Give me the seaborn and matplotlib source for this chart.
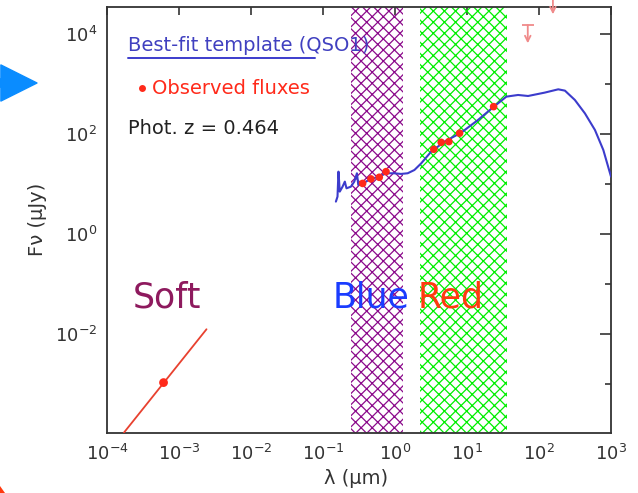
import numpy as np
import pandas as pd
import matplotlib
matplotlib.use("Agg")
import matplotlib.pyplot as plt
from matplotlib.patches import Polygon
from matplotlib.ticker import FixedLocator, LogFormatterSciNotation, NullFormatter
import seaborn as sns

# Best-fit QSO1 template (wavelength in micron, flux density in microJy)
template_lam = [0.151, 0.159, 0.164, 0.171, 0.187, 0.201, 0.212, 0.244, 0.272, 0.296,
                0.309, 0.355, 0.463, 0.605, 0.750, 0.980, 1.21, 1.50, 1.86, 2.31,
                3.18, 4.88, 8.32, 14.2, 23.0, 35.2, 51.2, 70.5, 120, 185,
                229, 315, 434, 598, 782, 1000]
template_flux = [4.50, 5.66, 17.9, 7.13, 8.97, 11.3, 8.30, 8.97, 11.3, 16.6,
                 9.68, 10.4, 12.8, 14.2, 16.6, 16.6, 16.1, 16.6, 19.3, 26.2,
                 45.0, 71.3, 108, 193, 346, 566, 611, 583, 681, 793,
                 746, 485, 262, 122, 48.5, 14.2]

# Observed photometry
obs_lam = [0.355, 0.463, 0.605, 0.750, 3.46, 4.38, 5.60, 7.88, 23.4]
obs_flux = [10.4, 12.8, 13.8, 17.9, 50.0, 69.0, 71.3, 105, 357]

# Far-IR upper limits (limit value and arrow tip)
ulim_lam = [69.8, 156]
ulim_flux = [15300, 59000]
ulim_tip = [6600, 25100]

# Soft X-ray detection and power-law segment
xray_lam = [6.1e-4]
xray_flux = [1.08e-3]
xray_line_lam = [1.72e-4, 2.41e-3]
xray_line_flux = [1.08e-4, 1.26e-2]

# Shaded bands (micron)
blue_band = (0.247, 1.30)
red_band = (2.24, 36.5)

sns.set_theme(style="white")
plt.rcParams["font.family"] = ["DejaVu Sans"]
plt.rcParams["mathtext.fontset"] = "dejavusans"
plt.rcParams["hatch.linewidth"] = 0.9

fig = plt.figure(figsize=(6.38, 4.93), dpi=100)
ax = fig.add_axes([0.1677, 0.1217, 0.79, 0.8647])
ax.set_xscale("log")
ax.set_yscale("log")
ax.set_xlim(1e-4, 1e3)
ax.set_ylim(1.06e-4, 3.56e4)

ax.axvspan(*blue_band, facecolor="none", edgecolor="#8b0a8b", hatch="xxx",
           linewidth=0, zorder=1)
ax.axvspan(*red_band, facecolor="none", edgecolor="#00ee00", hatch="xxx",
           linewidth=0, zorder=1)

tmpl = pd.DataFrame({"lam": template_lam, "flux": template_flux})
sns.lineplot(data=tmpl, x="lam", y="flux", ax=ax, color="#3c3ccc", lw=1.5,
             sort=False, estimator=None, zorder=3)

obs = pd.DataFrame({"lam": obs_lam, "flux": obs_flux})
sns.scatterplot(data=obs, x="lam", y="flux", ax=ax, color="#ff2a1a", s=30,
                edgecolor="none", zorder=4)

xl = pd.DataFrame({"lam": xray_line_lam, "flux": xray_line_flux})
sns.lineplot(data=xl, x="lam", y="flux", ax=ax, color="#e8412f", lw=1.3,
             estimator=None, zorder=3)
xp = pd.DataFrame({"lam": xray_lam, "flux": xray_flux})
sns.scatterplot(data=xp, x="lam", y="flux", ax=ax, color="#ff2a1a", s=40,
                edgecolor="none", zorder=4)

for lam, top, tip in zip(ulim_lam, ulim_flux, ulim_tip):
    ax.annotate("", xy=(lam, tip), xytext=(lam, top),
                arrowprops=dict(arrowstyle="->", color="#f08a8a", lw=1.3,
                                shrinkA=0, shrinkB=0, mutation_scale=10))
    ax.plot([lam], [top], marker="_", ms=9, mew=1.3, color="#f08a8a")

# Axis styling: inward ticks on all sides
for s in ax.spines.values():
    s.set_color("#333333")
    s.set_linewidth(1.3)
ax.xaxis.set_major_locator(FixedLocator([10.0 ** k for k in range(-4, 4)]))
ax.xaxis.set_minor_locator(FixedLocator([]))
ax.xaxis.set_major_formatter(LogFormatterSciNotation())
ax.yaxis.set_major_locator(FixedLocator([10.0 ** k for k in (-2, 0, 2, 4)]))
ax.yaxis.set_minor_locator(FixedLocator([10.0 ** k for k in (-3, -1, 1, 3)]))
ax.yaxis.set_major_formatter(LogFormatterSciNotation())
ax.yaxis.set_minor_formatter(NullFormatter())
ax.tick_params(which="both", direction="in", top=True, right=True,
               color="#333333", width=1.2, labelsize=13, labelcolor="#333333")
ax.tick_params(axis="x", which="major", length=6, pad=8)
ax.tick_params(axis="y", which="major", length=8, pad=7)
ax.tick_params(axis="y", which="minor", length=4.5)

ax.set_xlabel("λ (μm)", fontsize=14, color="#333333", va="center")
ax.set_ylabel("Fν (μJy)", fontsize=14, color="#333333")
ax.xaxis.set_label_coords(0.495, -0.1056)
ax.yaxis.set_label_coords(-0.119, 0.5)

# Legend-style annotations
ax.text(0.0417, 0.910, "Best-fit template (QSO1)", transform=ax.transAxes,
        fontsize=14, color="#4040c0", va="center", ha="left")
ax.plot([0.0417, 0.4127], [0.8797, 0.8797], transform=ax.transAxes,
        color="#3c3ccc", lw=1.4)
ax.plot([0.0688], [0.809], transform=ax.transAxes, marker="o", ms=5,
        color="#ff2a1a", mec="none")
ax.text(0.0893, 0.809, "Observed fluxes", transform=ax.transAxes,
        fontsize=14, color="#ff2a1a", va="center", ha="left")
ax.text(0.0417, 0.715, "Phot. z = 0.464", transform=ax.transAxes,
        fontsize=14, color="#222222", va="center", ha="left")

ax.text(0.119, 0.317, "Soft", transform=ax.transAxes, fontsize=25,
        color="#8e1a5e", ha="center", va="center")
ax.text(0.5238, 0.318, "Blue", transform=ax.transAxes, fontsize=25,
        color="#1a3cff", ha="center", va="center")
ax.text(0.6815, 0.318, "Red", transform=ax.transAxes, fontsize=25,
        color="#ff3a10", ha="center", va="center")

# Pointer arrow in the left margin
ax.annotate("", xy=(37, 410), xycoords="figure pixels",
            xytext=(-4, 410), textcoords="figure pixels",
            arrowprops=dict(width=6, headwidth=26, headlength=26,
                            color="#0a8cff", shrink=0), annotation_clip=False)
# Corner of a second pointer at the bottom-left edge
fig.add_artist(Polygon([(0, 0), (0.05, 0), (0, 0.07)], closed=True,
                       transform=fig.dpi_scale_trans, facecolor="#ff3a10",
                       edgecolor="none", linewidth=0))

fig.savefig("out.png", dpi=100, facecolor="white")
